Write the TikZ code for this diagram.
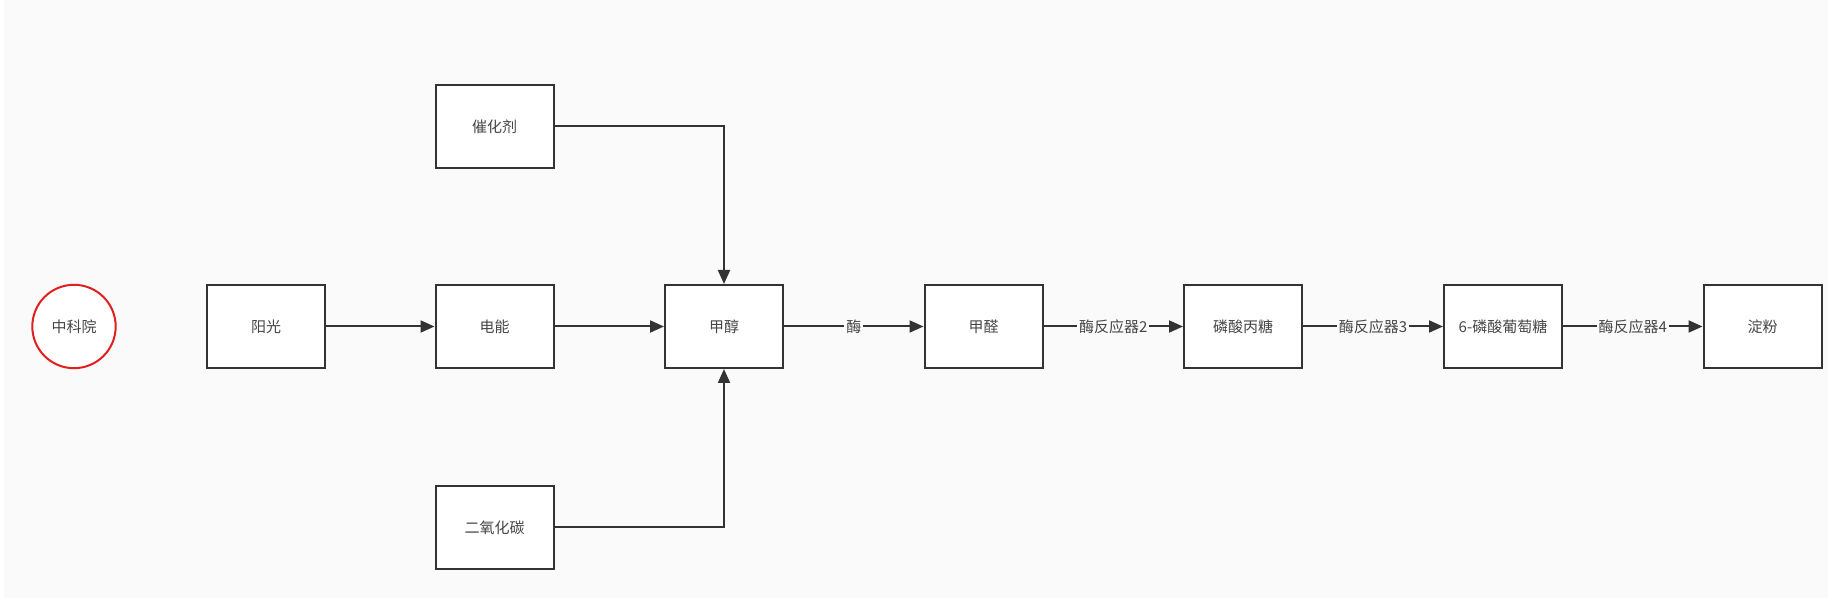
\documentclass[tikz,border=0pt]{standalone}
\usepackage{fontspec}
\setmainfont{Noto Sans CJK SC}
\usetikzlibrary{arrows.meta, positioning}
\definecolor{PageGray}{RGB}{250,250,250}
\definecolor{LineDark}{RGB}{51,51,51}
\definecolor{TextGray}{RGB}{70,70,70}
\definecolor{MarkRed}{RGB}{224,32,30}
\begin{document}
\begin{tikzpicture}[x=0.5pt, y=-0.5pt, font=\fontsize{7.5}{9}\selectfont, text=TextGray,
	kuang/.style={rectangle, draw=LineDark, line width=1pt, fill=white, minimum width=59pt, minimum height=41.5pt, inner sep=0pt},
	quan/.style={circle, draw=MarkRed, line width=1pt, fill=white, minimum size=41.7pt, inner sep=0pt},
	jian/.style={-{Triangle[length=7pt, width=6pt]}, draw=LineDark, line width=1pt},
	biao/.style={midway, fill=PageGray, inner sep=1pt, text=TextGray}]
	\useasboundingbox (0,0) rectangle (1828,598);
	\fill[white] (0,0) rectangle (1828,598);
	\fill[PageGray] (4,0) rectangle (1828,598);
	\node[quan] (zky) at (74,326.5) {中科院};
	\node[kuang] (yg) at (266,326.5) {阳光};
	\node[kuang] (dn) at (494.5,326.5) {电能};
	\node[kuang] (chj) at (494.5,126.5) {催化剂};
	\node[kuang] (eyht) at (494.5,527.5) {二氧化碳};
	\node[kuang] (jc) at (724,326.5) {甲醇};
	\node[kuang] (jq) at (983.5,326.5) {甲醛};
	\node[kuang] (lsbt) at (1243,326.5) {磷酸丙糖};
	\node[kuang] (lspt) at (1503,326.5) {6-磷酸葡萄糖};
	\node[kuang] (df) at (1762.5,326.5) {淀粉};
	\draw[jian] (yg) -- (dn);
	\draw[jian] (dn) -- (jc);
	\draw[jian] (chj) -| (jc);
	\draw[jian] (eyht) -| (jc);
	\draw[jian] (jc) -- (jq) node[biao] {酶};
	\draw[jian] (jq) -- (lsbt) node[biao] {酶反应器2};
	\draw[jian] (lsbt) -- (lspt) node[biao] {酶反应器3};
	\draw[jian] (lspt) -- (df) node[biao] {酶反应器4};
\end{tikzpicture}
\end{document}
